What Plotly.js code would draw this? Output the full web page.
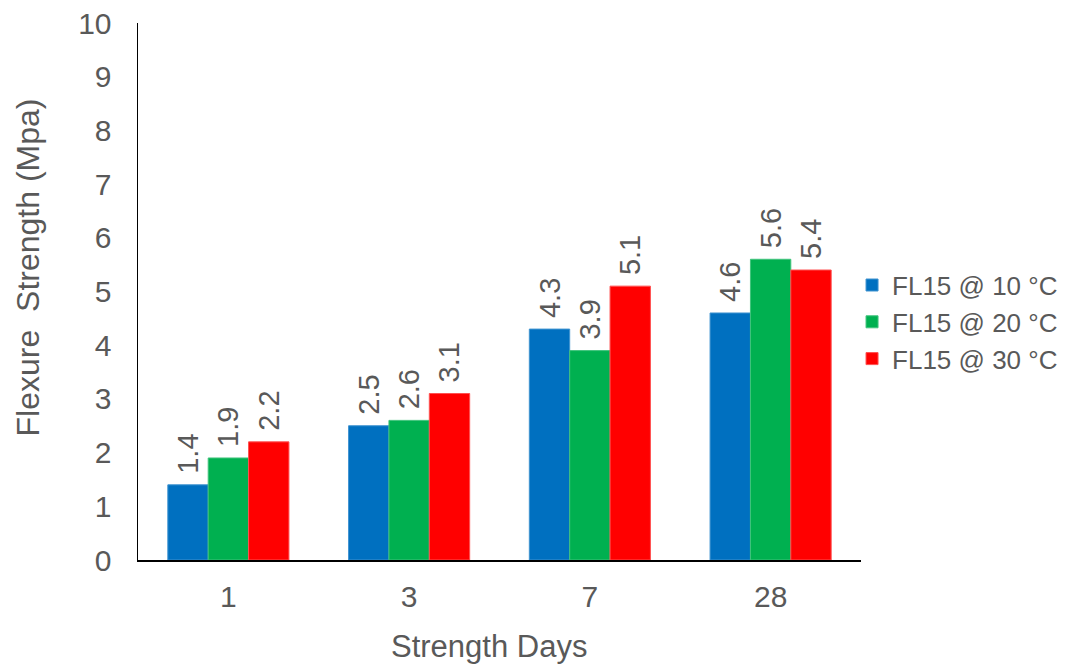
<!DOCTYPE html>
<html>
<head>
<meta charset="utf-8">
<script src="https://cdn.plot.ly/plotly-3.0.1.min.js"></script>
<style>
  html, body { margin: 0; padding: 0; background: #fff; }
  #chart { width: 1065px; height: 670px; }
</style>
</head>
<body>
<div id="chart"></div>
<script>
// Curing age in days (category axis)
const days = ['1', '3', '7', '28'];

// Flexural strength (MPa) for each curing temperature
const seriesNames = ['FL15 @ 10 °C', 'FL15 @ 20 °C', 'FL15 @ 30 °C'];
const fl15At10 = [1.4, 2.5, 4.3, 4.6];
const fl15At20 = [1.9, 2.6, 3.9, 5.6];
const fl15At30 = [2.2, 3.1, 5.1, 5.4];

const yTicks = [0, 1, 2, 3, 4, 5, 6, 7, 8, 9, 10];

const colors = ['#0070C0', '#00B050', '#FF0000'];
const edgeColors = ['#3f93d0', '#40c47c', '#ff5050'];
const textGrey = '#595959';
const fontFamily = 'Arial, "Liberation Sans", sans-serif';

const values = [fl15At10, fl15At20, fl15At30];

const traces = values.map((v, i) => ({
  type: 'bar',
  name: seriesNames[i],
  x: days,
  y: v,
  marker: { color: colors[i], line: { color: edgeColors[i], width: 1 } },
  // value label, with a small lead-in gap above the bar
  text: v.map(n => '\u00a0' + n.toFixed(1)),
  texttemplate: '%{text}',
  textposition: 'outside',
  textangle: -90,
  constraintext: 'none',
  cliponaxis: false,
  textfont: { family: fontFamily, size: 29, color: textGrey },
  hoverinfo: 'x+y+name'
}));

const layout = {
  width: 1065,
  height: 670,
  paper_bgcolor: '#ffffff',
  plot_bgcolor: '#ffffff',
  font: { family: fontFamily, color: textGrey, size: 29 },
  margin: { l: 138, r: 204, t: 23, b: 110, autoexpand: false },
  barmode: 'group',
  bargap: 0.33,
  bargroupgap: 0,
  showlegend: true,
  legend: {
    x: 0.9876,
    xanchor: 'left',
    y: 0.443,
    yanchor: 'middle',
    font: { family: fontFamily, size: 26, color: textGrey },
    itemwidth: 30,
    tracegroupgap: 0,
    bgcolor: 'rgba(0,0,0,0)'
  },
  xaxis: {
    type: 'category',
    categoryorder: 'array',
    categoryarray: days,
    showline: true,
    linecolor: '#000000',
    linewidth: 1.5,
    ticks: '',
    showgrid: false,
    zeroline: false,
    ticklabelstandoff: 9,
    tickfont: { family: fontFamily, size: 30, color: textGrey }
  },
  yaxis: {
    range: [0, 10],
    tickmode: 'array',
    tickvals: yTicks,
    ticktext: yTicks.map(String),
    showline: true,
    linecolor: '#000000',
    linewidth: 1.5,
    ticks: '',
    showgrid: false,
    zeroline: false,
    ticklabelstandoff: 19,
    tickfont: { family: fontFamily, size: 30, color: textGrey }
  },
  annotations: [
    {
      text: 'Strength Days',
      xref: 'paper', yref: 'paper',
      x: 0.486, y: -0.125,
      xanchor: 'center', yanchor: 'top',
      showarrow: false,
      font: { family: fontFamily, size: 31, color: textGrey }
    },
    {
      text: 'Flexure\u00a0 Strength (Mpa)',
      xref: 'paper', yref: 'paper',
      x: -0.152, y: 0.545,
      xanchor: 'center', yanchor: 'middle',
      textangle: -90,
      showarrow: false,
      font: { family: fontFamily, size: 32, color: textGrey }
    }
  ]
};

Plotly.newPlot('chart', traces, layout, { displayModeBar: false, staticPlot: true });
</script>
</body>
</html>
